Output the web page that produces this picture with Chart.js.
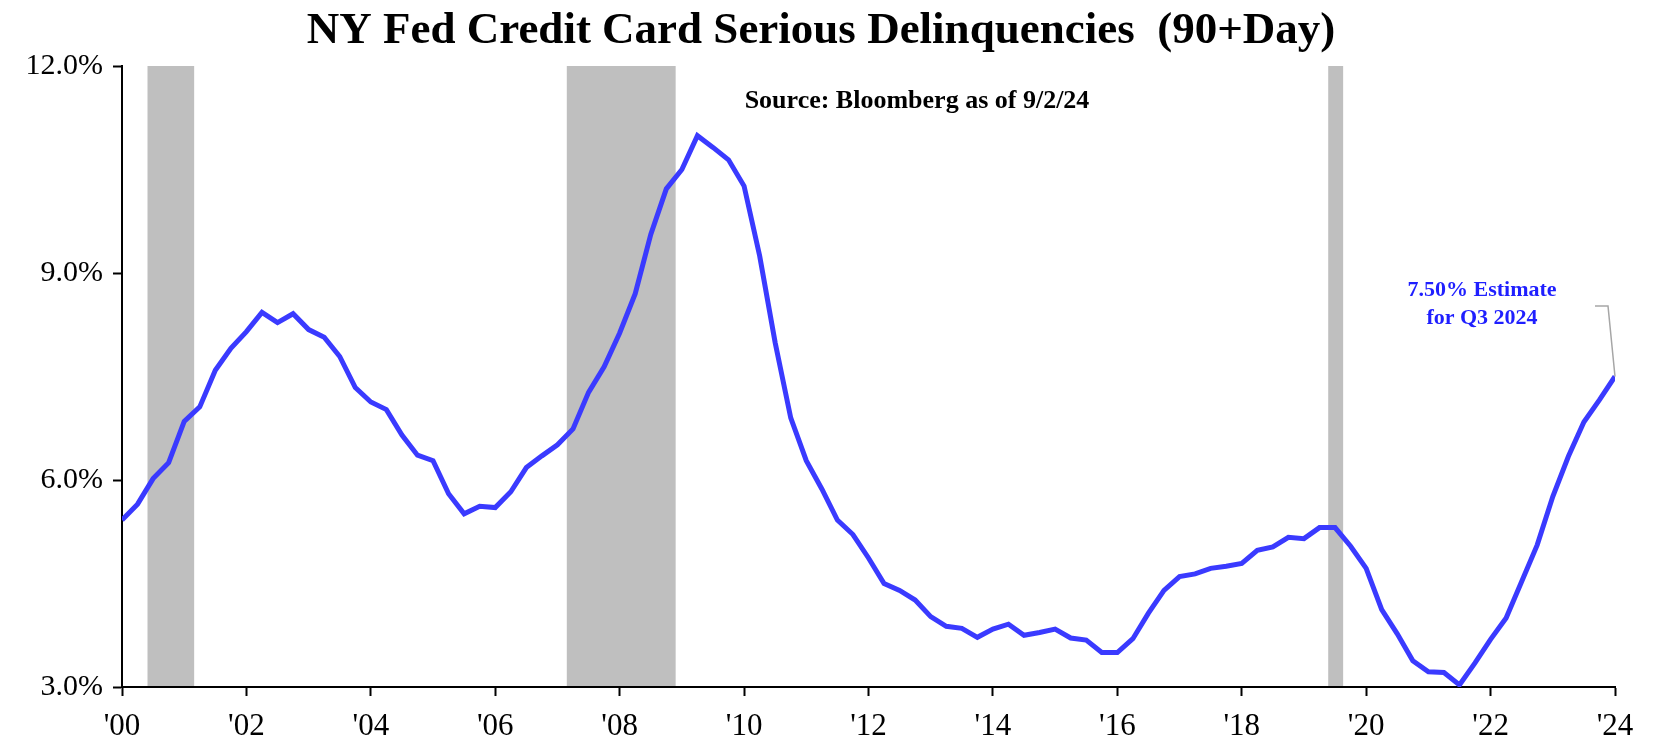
<!DOCTYPE html>
<html>
<head>
<meta charset="utf-8">
<title>NY Fed Credit Card Serious Delinquencies</title>
<script src="https://cdn.jsdelivr.net/npm/chart.js@4.4.1/dist/chart.umd.min.js"></script>
<style>
    html, body { margin: 0; padding: 0; background: #fff; }
    #wrap { width: 1653px; height: 741px; }
</style>
</head>
<body>
<div id="wrap"><canvas id="delinqChart"></canvas></div>
<script>
// Quarterly share of card balances 90+ days delinquent (%), '00 through Q3 2024
const delinquencyPct = [
    5.42, 5.65, 6.02, 6.25, 6.85, 7.06, 7.59, 7.91, 8.15, 8.43, 8.28, 8.41, 8.18, 8.07, 7.79, 7.34, 7.13,
    7.02, 6.65, 6.36, 6.28, 5.80, 5.51, 5.62, 5.60, 5.83, 6.18, 6.35, 6.51, 6.74, 7.27, 7.64, 8.13,
    8.70, 9.56, 10.22, 10.50, 10.99, 10.82, 10.64, 10.26, 9.25, 7.99, 6.90, 6.28, 5.87, 5.42, 5.21, 4.87,
    4.50, 4.40, 4.26, 4.02, 3.88, 3.85, 3.72, 3.84, 3.91, 3.75, 3.79, 3.84, 3.71, 3.68, 3.50, 3.50,
    3.70, 4.07, 4.40, 4.60, 4.64, 4.72, 4.75, 4.79, 4.98, 5.03, 5.17, 5.15, 5.31, 5.31, 5.04, 4.72,
    4.12, 3.77, 3.38, 3.22, 3.21, 3.03, 3.35, 3.69, 4.00, 4.53, 5.06, 5.76, 6.34, 6.84, 7.16, 7.50
];

const yearTicks = [0, 2, 4, 6, 8, 10, 12, 14, 16, 18, 20, 22, 24];
const yearTickLabels = ["'00", "'02", "'04", "'06", "'08", "'10", "'12", "'14", "'16", "'18", "'20", "'22", "'24"];
const pctTicks = [3, 6, 9, 12];

// Recession shading, in years from the '00 tick
const recessionStart = [0.41, 7.15, 19.39];
const recessionEnd = [1.16, 8.90, 19.63];

const chartTitle = 'NY Fed Credit Card Serious Delinquencies  (90+Day)';
const sourceNote = 'Source: Bloomberg as of 9/2/24';
const estimateNote = ['7.50% Estimate', 'for Q3 2024'];

const SERIF = '"Liberation Serif", "Times New Roman", serif';
const LINE_BLUE = '#3a3aff';

// one point per quarter
const points = delinquencyPct.map((v, i) => ({ x: i / 4, y: v }));

const recessionBands = {
    id: 'recessionBands',
    beforeDraw(chart) {
        const { ctx, chartArea, scales } = chart;
        ctx.save();
        ctx.fillStyle = '#bfbfbf';
        recessionStart.forEach((start, i) => {
            const x0 = scales.x.getPixelForValue(start);
            const x1 = scales.x.getPixelForValue(recessionEnd[i]);
            ctx.fillRect(x0, chartArea.top, x1 - x0, chartArea.bottom - chartArea.top);
        });
        ctx.restore();
    }
};

const chartText = {
    id: 'chartText',
    afterDatasetsDraw(chart) {
        const { ctx, scales } = chart;
        ctx.save();
        ctx.textAlign = 'center';
        ctx.textBaseline = 'middle';

        // title
        ctx.fillStyle = '#000';
        ctx.font = 'bold 45px ' + SERIF;
        ctx.fillText(chartTitle, 821, 31);

        // source
        ctx.font = 'bold 26px ' + SERIF;
        ctx.fillText(sourceNote, 917, 101);

        // estimate callout tied to the last quarter
        const last = delinquencyPct.length - 1;
        const px = scales.x.getPixelForValue(last / 4);
        const py = scales.y.getPixelForValue(delinquencyPct[last]);

        ctx.strokeStyle = '#a6a6a6';
        ctx.lineWidth = 1.5;
        ctx.beginPath();
        ctx.moveTo(px, py);
        ctx.lineTo(px - 7, 306);
        ctx.lineTo(px - 20, 306);
        ctx.stroke();

        ctx.fillStyle = '#1f1fff';
        ctx.font = 'bold 22px ' + SERIF;
        ctx.fillText(estimateNote[0], px - 133, 290);
        ctx.fillText(estimateNote[1], px - 133, 318);
        ctx.restore();
    }
};

const ctx = document.getElementById('delinqChart').getContext('2d');
new Chart(ctx, {
    type: 'line',
    data: {
        datasets: [{
            data: points,
            borderColor: LINE_BLUE,
            borderWidth: 5,
            pointRadius: 0,
            tension: 0,
            fill: false
        }]
    },
    options: {
        responsive: true,
        maintainAspectRatio: false,
        animation: false,
        devicePixelRatio: 1,
        layout: { padding: { top: 66, right: 38, bottom: 0, left: 0 } },
        plugins: {
            legend: { display: false },
            tooltip: { enabled: false },
            title: { display: false }
        },
        scales: {
            x: {
                type: 'linear',
                min: 0,
                max: 24,
                afterFit(scale) { scale.height = 54; },
                afterBuildTicks(scale) { scale.ticks = yearTicks.map(v => ({ value: v })); },
                border: { display: true, color: '#000', width: 2 },
                grid: { drawOnChartArea: false, drawTicks: true, tickLength: 9, tickColor: '#000', tickWidth: 2 },
                ticks: {
                    autoSkip: false,
                    maxRotation: 0,
                    padding: 12,
                    color: '#000',
                    font: { family: SERIF, size: 31 },
                    callback: v => yearTickLabels[yearTicks.indexOf(v)]
                }
            },
            y: {
                min: 3,
                max: 12,
                afterFit(scale) { scale.width = 122; },
                afterBuildTicks(scale) { scale.ticks = pctTicks.map(v => ({ value: v })); },
                border: { display: true, color: '#000', width: 2 },
                grid: { drawOnChartArea: false, drawTicks: true, tickLength: 9, tickColor: '#000', tickWidth: 2 },
                ticks: {
                    padding: 10,
                    color: '#000',
                    font: { family: SERIF, size: 30 },
                    callback: v => v.toFixed(1) + '%'
                }
            }
        }
    },
    plugins: [recessionBands, chartText]
});
</script>
</body>
</html>
